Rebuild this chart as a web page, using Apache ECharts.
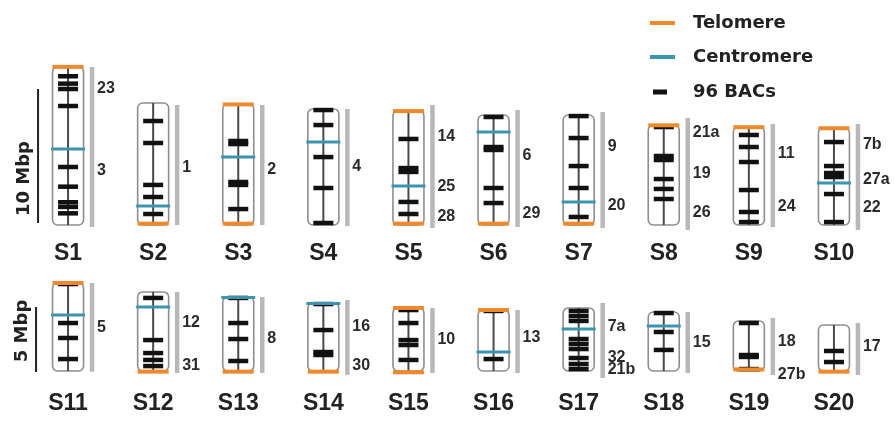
<!DOCTYPE html>
<html><head><meta charset="utf-8">
<script src="https://cdn.jsdelivr.net/npm/echarts@6/dist/echarts.min.js"></script>
<style>html,body{margin:0;padding:0;background:#fff}#c{width:895px;height:421px}</style>
</head><body><div id="c"></div>
<script>
// ---------- DATA (positions in Mbp, measured from the bottom end of each chromosome) ----------
const topCats = ['S1','S2','S3','S4','S5','S6','S7','S8','S9','S10'];
const bottomCats = ['S11','S12','S13','S14','S15','S16','S17','S18','S19','S20'];

const topLengths = [11.8, 9.1, 9.03, 8.66, 8.51, 8.21, 8.21, 7.46, 7.31, 7.24];
const bottomLengths = [6.77, 6.08, 5.69, 5.23, 4.85, 4.69, 4.85, 4.54, 3.85, 3.54];

const topTelomeres = [['S1',11.8],['S2',0.1],['S3',9.0],['S3',0.1],['S5',8.5],['S5',0.1],
  ['S6',0.1],['S7',0.1],['S8',7.44],['S9',7.3],['S10',7.22]];
const bottomTelomeres = [['S11',6.77],['S12',-0.05],['S13',-0.05],['S14',-0.05],['S15',4.85],
  ['S15',-0.1],['S16',4.69],['S19',0.12],['S20',-0.05]];

const topCentromeres = [['S1',5.67],['S2',1.42],['S3',5.07],['S4',6.19],['S5',2.91],
  ['S6',6.94],['S7',1.72],['S10',3.13]];
const bottomCentromeres = [['S11',4.31],['S12',4.92],['S13',5.65],['S14',5.2],['S16',1.46],
  ['S17',3.23],['S18',3.46]];

const topBACs = [
  ['S1',11.1],['S1',10.55],['S1',10.15],['S1',8.88],['S1',4.33],['S1',2.86],['S1',1.7],['S1',1.35],['S1',0.87],
  ['S2',7.76],['S2',6.12],['S2',2.99],['S2',2.09],['S2',0.82],
  ['S3',6.27],['S3',6.04],['S3',3.21],['S3',2.99],['S3',1.19],
  ['S4',8.58],['S4',7.46],['S4',5.07],['S4',2.76],['S4',0.15],
  ['S5',6.42],['S5',4.25],['S5',3.96],['S5',1.72],['S5',0.82],
  ['S6',8.06],['S6',5.82],['S6',5.6],['S6',2.76],['S6',1.64],
  ['S7',8.13],['S7',6.49],['S7',4.4],['S7',2.76],['S7',0.6],
  ['S8',7.31],['S8',5.15],['S8',4.85],['S8',3.43],['S8',2.69],['S8',1.94],
  ['S9',6.72],['S9',5.82],['S9',4.7],['S9',2.61],['S9',0.97],['S9',0.22],
  ['S10',6.19],['S10',4.4],['S10',3.88],['S10',3.58],['S10',2.31],['S10',0.22]
];
const bottomBACs = [
  ['S11',6.69],['S11',3.69],['S11',2.54],['S11',0.92],
  ['S12',5.62],['S12',2.38],['S12',1.38],['S12',0.85],['S12',0.38],
  ['S13',5.62],['S13',3.69],['S13',2.46],['S13',0.77],
  ['S14',5.15],['S14',3.15],['S14',1.46],['S14',1.23],
  ['S15',4.69],['S15',3.69],['S15',2.38],['S15',2.0],['S15',0.85],
  ['S16',4.62],['S16',0.92],
  ['S17',4.62],['S17',4.23],['S17',3.85],['S17',2.46],['S17',2.08],['S17',1.69],['S17',1.0],['S17',0.54],['S17',0.15],
  ['S18',4.46],['S18',3.0],['S18',1.62],
  ['S19',3.69],['S19',1.23],['S19',1.08],['S19',0.15],
  ['S20',1.54],['S20',0.69]
];

// grey linkage-group bars: [chromosome, top, bottom]
const topGreyBars = [['S1',11.8,-0.15],['S2',8.96,0],['S3',8.96,0],['S4',8.66,-0.07],['S5',8.96,-0.22],
  ['S6',8.58,-0.15],['S7',8.43,-0.22],['S8',7.99,-0.37],['S9',7.54,-0.15],['S10',7.54,-0.37]];
const bottomGreyBars = [['S11',6.77,-0.05],['S12',6.08,-0.15],['S13',5.69,-0.15],['S14',5.46,-0.3],
  ['S15',4.85,-0.15],['S16',4.69,-0.15],['S17',5.23,-0.54],['S18',4.54,-0.15],['S19',4.08,-0.31],['S20',3.69,-0.31]];

// group labels beside the grey bars
const topLabelPos = [['S1',10.15],['S1',4.03],['S2',4.25],['S3',4.1],['S4',4.33],['S5',6.57],['S5',2.84],['S5',0.6],
  ['S6',5.15],['S6',0.82],['S7',5.82],['S7',1.42],['S8',6.87],['S8',3.81],['S8',0.9],['S9',5.3],['S9',1.34],
  ['S10',5.97],['S10',3.36],['S10',1.27]];
const topLabelText = ['23','3','1','2','4','14','25','28','6','29','9','20','21a','19','26','11','24','7b','27a','22'];
const bottomLabelPos = [['S11',3.31],['S12',3.69],['S12',0.38],['S13',2.46],['S14',3.38],['S14',0.38],['S15',2.38],
  ['S16',2.54],['S17',3.38],['S17',1.0],['S17',0.08],['S18',2.15],['S19',2.23],['S19',-0.31],['S20',1.85]];
const bottomLabelText = ['5','12','31','8','16','30','10','13','7a','32','21b','15','18','27b','17'];

// scale bars: [anchor chromosome, from, to, text position]
const topScale = [['S1',0.15,10.15,3.47]];
const topScaleText = ['10 Mbp'];
const bottomScale = [['S11',-0.08,4.92,3.08]];
const bottomScaleText = ['5 Mbp'];

// ---------- RENDERING ----------
const C_TEL = '#ef8a2c', C_CEN = '#3a96ad', C_BAC = '#111111';

function chromItem(params, api) {
  const t = api.coord([api.value(0), api.value(1)]);
  const b = api.coord([api.value(0), 0]);
  const w = 31;
  return {type:'group', children:[
    {type:'rect', shape:{x:t[0]-w/2, y:t[1], width:w, height:b[1]-t[1], r:5},
     style:{fill:'#ffffff', stroke:'#8e8e8e', lineWidth:1.6}},
    {type:'line', shape:{x1:t[0], y1:t[1], x2:t[0], y2:b[1]}, style:{stroke:'#4a4a4a', lineWidth:2}}
  ]};
}
function greyItem(params, api) {
  const t = api.coord([api.value(0), api.value(1)]);
  const b = api.coord([api.value(0), api.value(2)]);
  return {type:'rect', shape:{x:t[0]+24-2.25, y:t[1], width:4.5, height:b[1]-t[1]},
    style:{fill:'#b8b8b8'}};
}
function labelRenderer(texts) {
  return function(params, api) {
    const p = api.coord([api.value(0), api.value(1)]);
    return {type:'text', x:p[0]+29, y:p[1],
      style:{text:texts[params.dataIndex], fill:'#2a2a2a', fontFamily:'Liberation Sans',
        fontWeight:'bold', fontSize:16, align:'left', verticalAlign:'middle'}};
  };
}
function scaleRenderer(texts, dx) {
  return function(params, api) {
    const a = api.coord([api.value(0), api.value(1)]);
    const b = api.coord([api.value(0), api.value(2)]);
    const m = api.coord([api.value(0), api.value(3)]);
    return {type:'group', children:[
      {type:'line', shape:{x1:a[0]+dx, y1:a[1], x2:b[0]+dx, y2:b[1]}, style:{stroke:'#222', lineWidth:2}},
      {type:'text', x:m[0]+dx-14, y:m[1], rotation:Math.PI/2,
        style:{text:texts[params.dataIndex], fill:'#222', fontFamily:'DejaVu Sans', fontWeight:'bold',
          fontSize:18, align:'center', verticalAlign:'middle'}}
    ]};
  };
}

function rowSeries(gi, cats, lengths, greys, labelPos, labelText, scale, scaleText, scaleDx, bacs, cens, tels) {
  return [
    {type:'custom', xAxisIndex:gi, yAxisIndex:gi, z:1, silent:true, renderItem:chromItem,
      data:cats.map((c,i)=>[c, lengths[i]])},
    {type:'custom', xAxisIndex:gi, yAxisIndex:gi, z:1, silent:true, renderItem:greyItem, data:greys},
    {type:'custom', xAxisIndex:gi, yAxisIndex:gi, z:2, silent:true, renderItem:labelRenderer(labelText), data:labelPos},
    {type:'custom', xAxisIndex:gi, yAxisIndex:gi, z:2, silent:true, renderItem:scaleRenderer(scaleText, scaleDx), data:scale},
    {name:'96 BACs', type:'scatter', xAxisIndex:gi, yAxisIndex:gi, z:3, silent:true, symbol:'rect',
      symbolSize:[20,4.5], itemStyle:{color:C_BAC, opacity:1}, data:bacs},
    {name:'Centromere', type:'scatter', xAxisIndex:gi, yAxisIndex:gi, z:4, silent:true, symbol:'rect',
      symbolSize:[34,3], itemStyle:{color:C_CEN, opacity:1}, data:cens},
    {name:'Telomere', type:'scatter', xAxisIndex:gi, yAxisIndex:gi, z:5, silent:true, symbol:'rect',
      symbolSize:[31,4], itemStyle:{color:C_TEL, opacity:1}, data:tels}
  ];
}

const chart = echarts.init(document.getElementById('c'), null, {renderer:'canvas'});
const xAxisCommon = {type:'category', axisLine:{show:false}, axisTick:{show:false}, splitLine:{show:false},
  axisLabel:{fontFamily:'Liberation Sans', fontWeight:'bold', fontSize:23, color:'#222'}};
const legendText = {fontFamily:'DejaVu Sans', fontWeight:'bold', fontSize:18, color:'#222', lineHeight:20};

chart.setOption({
  animation:false,
  backgroundColor:'#ffffff',
  grid:[
    {left:25.5, width:851, top:64.2, height:167.5},
    {left:25.5, width:851, top:280, height:104}
  ],
  xAxis:[
    Object.assign({}, xAxisCommon, {gridIndex:0, data:topCats, axisLabel:Object.assign({}, xAxisCommon.axisLabel, {margin:10})}),
    Object.assign({}, xAxisCommon, {gridIndex:1, data:bottomCats, axisLabel:Object.assign({}, xAxisCommon.axisLabel, {margin:8})})
  ],
  yAxis:[
    {type:'value', gridIndex:0, min:-0.5, max:12, show:false},
    {type:'value', gridIndex:1, min:-1, max:7, show:false}
  ],
  legend:[
    {data:['Telomere','Centromere'], orient:'vertical', left:645, top:8, icon:'rect',
      itemWidth:25, itemHeight:4, itemGap:14, selectedMode:false,
      textStyle:Object.assign({padding:[0,0,0,13]}, legendText)},
    {data:['96 BACs'], orient:'vertical', left:648, top:77, icon:'rect',
      itemWidth:14, itemHeight:5, selectedMode:false,
      textStyle:Object.assign({padding:[0,0,0,21]}, legendText)}
  ],
  series:[].concat(
    rowSeries(0, topCats, topLengths, topGreyBars, topLabelPos, topLabelText, topScale, topScaleText, -30,
      topBACs, topCentromeres, topTelomeres),
    rowSeries(1, bottomCats, bottomLengths, bottomGreyBars, bottomLabelPos, bottomLabelText, bottomScale, bottomScaleText, -32,
      bottomBACs, bottomCentromeres, bottomTelomeres)
  )
});
</script></body></html>
